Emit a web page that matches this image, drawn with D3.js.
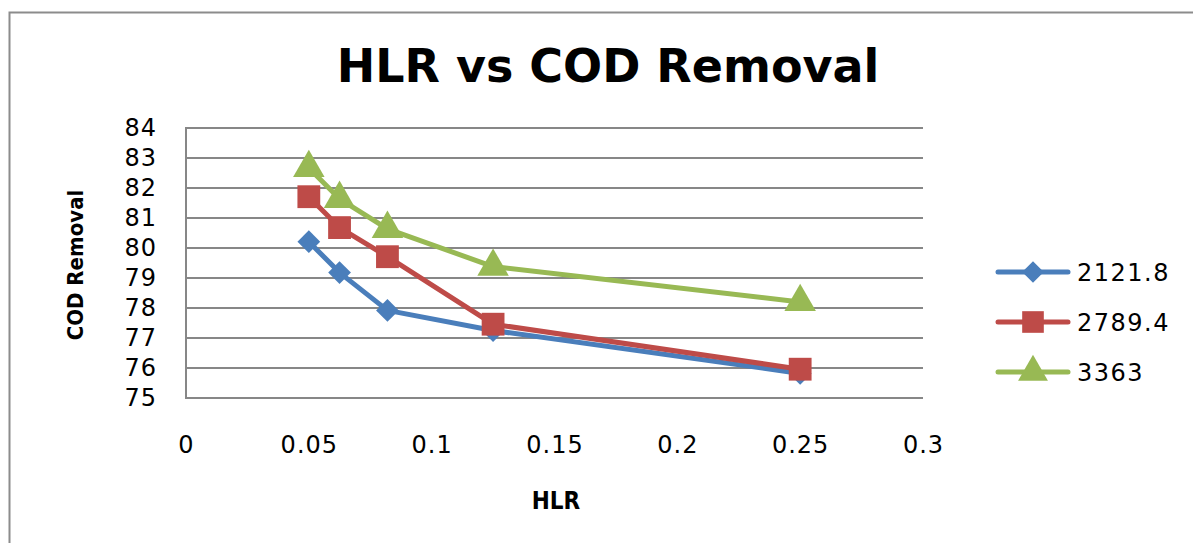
<!DOCTYPE html>
<html>
<head>
<meta charset="utf-8">
<script src="https://cdn.jsdelivr.net/npm/d3@7"></script>
<style>
  body { margin: 0; background: #fff; }
  svg text { font-family: "DejaVu Sans", Verdana, sans-serif; }
</style>
</head>
<body>
<div id="chart"></div>
<script>
// Dati
const hlr = [0.05, 0.0625, 0.082, 0.125, 0.25];
const seriesNames = ["2121.8", "2789.4", "3363"];
const cod2121 = [80.21, 79.18, 77.92, 77.25, 75.82];
const cod2789 = [81.71, 80.68, 79.71, 77.46, 75.96];
const cod3363 = [82.67, 81.64, 80.64, 79.38, 78.2];
const xTicks = [0, 0.05, 0.1, 0.15, 0.2, 0.25, 0.3];
const yTicks = [75, 76, 77, 78, 79, 80, 81, 82, 83, 84];

const width = 1193;
const height = 543;
const colors = ["#4a7ebb", "#be4b48", "#98b954"];
const symbols = [d3.symbolDiamond2, d3.symbolSquare, d3.symbolTriangle];

const svg = d3.select("#chart").append("svg")
  .attr("width", width)
  .attr("height", height);

// Bordo esterno del grafico
svg.append("rect")
  .attr("x", 9.5).attr("y", 12.5)
  .attr("width", width + 20).attr("height", height + 20)
  .attr("fill", "none").attr("stroke", "#8c8c8c").attr("stroke-width", 2);

const x = d3.scaleLinear().domain([0, 0.3]).range([186, 923]);
const y = d3.scaleLinear().domain([75, 84]).range([398, 128]);

// Griglia
svg.append("g")
  .selectAll("line")
  .data(yTicks)
  .enter().append("line")
  .attr("x1", x(0)).attr("x2", x(0.3))
  .attr("y1", d => y(d)).attr("y2", d => y(d))
  .attr("stroke", "#878787").attr("stroke-width", 2);

svg.append("line")
  .attr("x1", x(0)).attr("x2", x(0))
  .attr("y1", y(84) - 1).attr("y2", y(75) + 1)
  .attr("stroke", "#878787").attr("stroke-width", 2);

// Assi (solo etichette)
const yAxis = svg.append("g")
  .attr("transform", `translate(${x(0)},0)`)
  .call(d3.axisLeft(y).tickValues(yTicks).tickSize(0).tickPadding(29).tickFormat(d3.format("d")));
yAxis.select(".domain").remove();
yAxis.selectAll("text").attr("font-size", 24).attr("fill", "#000")
  .attr("letter-spacing", 1)
  .style("font-family", "'DejaVu Sans', Verdana, sans-serif");

const xAxis = svg.append("g")
  .attr("transform", `translate(0,${y(75)})`)
  .call(d3.axisBottom(x).tickValues(xTicks).tickSize(0).tickPadding(38).tickFormat(d => d === 0 ? "0" : String(d)));
xAxis.select(".domain").remove();
xAxis.selectAll("text").attr("font-size", 24).attr("fill", "#000")
  .attr("letter-spacing", 1)
  .style("font-family", "'DejaVu Sans', Verdana, sans-serif");

// Titoli
svg.append("text")
  .attr("x", 608).attr("y", 82)
  .attr("text-anchor", "middle")
  .attr("font-size", 46).attr("font-weight", "bold")
  .text("HLR vs COD Removal");

svg.append("text")
  .attr("x", 556).attr("y", 509)
  .attr("text-anchor", "middle")
  .attr("font-size", 24).attr("font-weight", "bold")
  .style("font-family", "'Liberation Sans Narrow', 'DejaVu Sans Condensed', sans-serif")
  .text("HLR");

svg.append("text")
  .attr("transform", "translate(83,265) rotate(-90)")
  .attr("text-anchor", "middle")
  .attr("font-size", 22).attr("font-weight", "bold")
  .style("font-family", "'Liberation Sans Narrow', 'DejaVu Sans Condensed', sans-serif")
  .text("COD Removal");

// Serie
const series = [cod2121, cod2789, cod3363].map((vals, i) => ({
  name: seriesNames[i],
  color: colors[i],
  symbol: symbols[i],
  points: hlr.map((h, j) => [h, vals[j]])
}));

const line = d3.line().x(d => x(d[0])).y(d => y(d[1]));
const symbolSizes = [330, 520, 430];

series.forEach((s, i) => {
  svg.append("path")
    .datum(s.points)
    .attr("d", line)
    .attr("fill", "none")
    .attr("stroke", s.color)
    .attr("stroke-width", 5)
    .attr("stroke-linejoin", "round");
  svg.append("g")
    .selectAll("path")
    .data(s.points)
    .enter().append("path")
    .attr("transform", d => `translate(${x(d[0])},${y(d[1])})`)
    .attr("d", d3.symbol().type(s.symbol).size(symbolSizes[i]))
    .attr("fill", s.color);
});

// Legenda
const legend = svg.append("g").attr("transform", "translate(998,272)");
series.forEach((s, i) => {
  const g = legend.append("g").attr("transform", `translate(0,${i * 50})`);
  g.append("line")
    .attr("x1", 0).attr("x2", 70)
    .attr("stroke", s.color).attr("stroke-width", 5).attr("stroke-linecap", "round");
  g.append("path")
    .attr("transform", "translate(35,0)")
    .attr("d", d3.symbol().type(s.symbol).size(symbolSizes[i] * 0.9))
    .attr("fill", s.color);
  g.append("text")
    .attr("x", 79).attr("y", 9)
    .attr("font-size", 24)
    .attr("letter-spacing", 1.5)
    .text(s.name);
});
</script>
</body>
</html>
